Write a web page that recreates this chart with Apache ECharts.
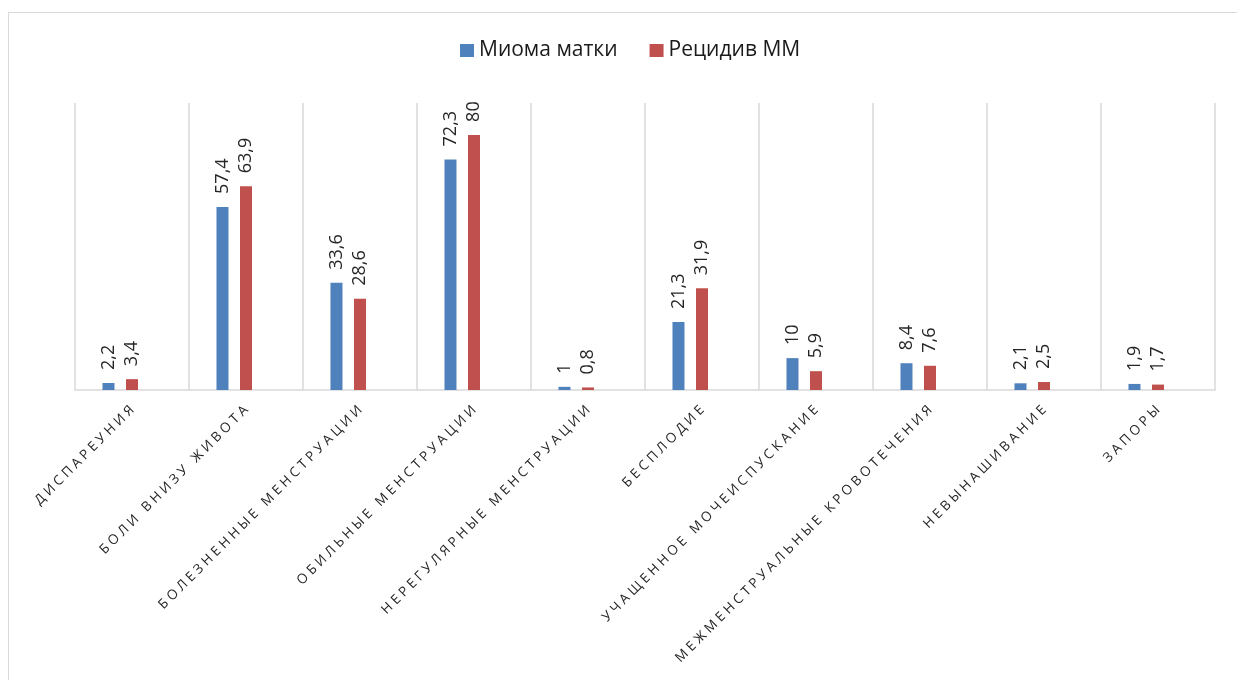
<!DOCTYPE html>
<html>
<head>
<meta charset="utf-8">
<script src="https://cdn.jsdelivr.net/npm/echarts@6/dist/echarts.min.js"></script>
<style>
  html, body { margin: 0; padding: 0; background: #ffffff; }
  #frame {
    position: absolute; left: 8px; top: 12px; width: 1300px; height: 760px;
    border-left: 1.5px solid #d9d9d9; border-top: 1.5px solid #d9d9d9;
    box-sizing: border-box;
  }
  #chart { position: absolute; left: 0; top: 0; width: 1237px; height: 680px; }
</style>
</head>
<body>
<div id="frame"></div>
<div id="chart"></div>
<script>
// Symptoms (categories) and shares per group, %
const categories = [
  'Диспареуния',
  'Боли внизу живота',
  'Болезненные менструации',
  'Обильные менструации',
  'Нерегулярные менструации',
  'Бесплодие',
  'Учащенное мочеиспускание',
  'Межменструальные кровотечения',
  'Невынашивание',
  'Запоры'
];
const seriesNames = ['Миома матки', 'Рецидив ММ'];
const fibroids = [2.2, 57.4, 33.6, 72.3, 1, 21.3, 10, 8.4, 2.1, 1.9];
const relapse = [3.4, 63.9, 28.6, 80, 0.8, 31.9, 5.9, 7.6, 2.5, 1.7];
const colors = ['#4f81bd', '#c0504d'];

// Upper-case, letter-spaced axis captions
function spaced(s) {
  return s.toUpperCase().split(' ')
    .map(w => w.split('').join(' '))
    .join('   ');
}
const fmtValue = p => String(p.value).replace('.', ',');

const labelStyle = {
  show: true,
  position: 'top',
  rotate: 90,
  align: 'left',
  verticalAlign: 'middle',
  distance: 13,
  fontFamily: 'Open Sans',
  fontSize: 18,
  color: '#262626',
  formatter: fmtValue
};

const chart = echarts.init(document.getElementById('chart'));
chart.setOption({
  animation: false,
  backgroundColor: 'transparent',
  legend: {
    data: seriesNames,
    left: 460,
    top: 40,
    padding: 0,
    itemWidth: 14,
    itemHeight: 13,
    itemGap: 32,
    icon: 'rect',
    textStyle: { fontFamily: 'Open Sans', fontSize: 21, color: '#1a1a1a' }
  },
  grid: { left: 75, right: 22, top: 103, bottom: 290, containLabel: false },
  xAxis: {
    type: 'category',
    data: categories,
    axisLine: { lineStyle: { color: '#d9d9d9', width: 1.5 } },
    axisTick: { show: false },
    splitLine: { show: true, lineStyle: { color: '#d9d9d9', width: 1.5 } },
    axisLabel: {
      interval: 0,
      rotate: 45,
      margin: 18,
      fontFamily: 'Open Sans',
      fontSize: 13.5,
      color: '#262626',
      formatter: spaced
    }
  },
  yAxis: {
    type: 'value',
    min: 0,
    max: 90,
    show: false,
    splitLine: { show: false }
  },
  series: [
    {
      name: seriesNames[0], type: 'bar', data: fibroids,
      barWidth: 12, barGap: '96%',
      itemStyle: { color: colors[0] },
      label: labelStyle
    },
    {
      name: seriesNames[1], type: 'bar', data: relapse,
      barWidth: 12, barGap: '96%',
      itemStyle: { color: colors[1] },
      label: labelStyle
    },
    {
      // empty third slot of each cluster
      name: 'spacer', type: 'bar', data: categories.map(() => null),
      barWidth: 12, barGap: '96%', silent: true
    }
  ]
});
</script>
</body>
</html>
